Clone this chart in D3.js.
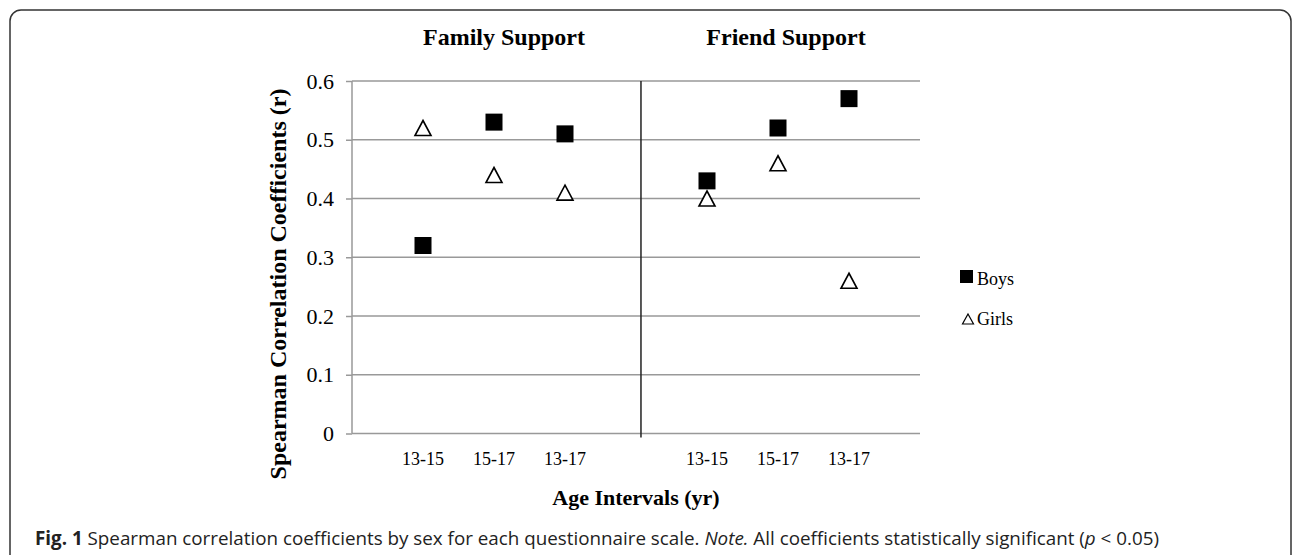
<!DOCTYPE html>
<html>
<head>
<meta charset="utf-8">
<script src="https://cdn.jsdelivr.net/npm/d3@7"></script>
<style>
  body { margin: 0; background: #fff; }
  svg { display: block; }
</style>
</head>
<body>
<div class="chart"></div>
<script>
const ageLabels = ['13-15', '15-17', '13-17', '13-15', '15-17', '13-17'];
const xSlots = [1, 2, 3, 5, 6, 7];
const boys = [0.32, 0.53, 0.51, 0.43, 0.52, 0.57];
const girls = [0.52, 0.44, 0.41, 0.40, 0.46, 0.26];
const yTicks = [0, 0.1, 0.2, 0.3, 0.4, 0.5, 0.6];
const panelTitles = ['Family Support', 'Friend Support'];
const dividerSlot = 4.07;

const width = 1292;
const height = 555;
const serif = '"Liberation Serif", "Times New Roman", serif';

const svg = d3
  .select('.chart')
  .append('svg')
  .attr('width', width)
  .attr('height', height);

// rounded figure frame (runs off the bottom)
svg
  .append('rect')
  .attr('x', 10)
  .attr('y', 10)
  .attr('width', 1281)
  .attr('height', 620)
  .attr('rx', 11)
  .attr('fill', 'none')
  .attr('stroke', '#333')
  .attr('stroke-width', 1.5);

const x = d3.scaleLinear().domain([0, 8]).range([352, 920]);
const y = d3.scaleLinear().domain([0, 0.6]).range([433.5, 81]);

// gridlines
svg
  .selectAll('line.grid')
  .data(yTicks)
  .enter()
  .append('line')
  .attr('class', 'grid')
  .attr('x1', x(0))
  .attr('x2', x(8))
  .attr('y1', (d) => y(d))
  .attr('y2', (d) => y(d))
  .attr('stroke', '#999')
  .attr('stroke-width', 1.5);

// y axis
const yAxis = svg
  .append('g')
  .attr('transform', `translate(${x(0)},0)`)
  .call(d3.axisLeft(y).tickValues(yTicks).tickSize(6).tickPadding(12).tickFormat((d) => (d === 0 ? '0' : d3.format('.1f')(d))));
yAxis.selectAll('line, path').attr('stroke', '#999').attr('stroke-width', 1.5);
yAxis.select('path').attr('d', `M0,${y(0)}V${y(0.6)}`);
yAxis
  .selectAll('text')
  .attr('font-family', serif)
  .attr('font-size', 22)
  .attr('fill', '#000');

// panel divider
svg
  .append('line')
  .attr('x1', x(dividerSlot))
  .attr('x2', x(dividerSlot))
  .attr('y1', y(0.6))
  .attr('y2', y(0) + 4)
  .attr('stroke', '#222')
  .attr('stroke-width', 1.5);

// x labels
svg
  .selectAll('text.age')
  .data(ageLabels)
  .enter()
  .append('text')
  .attr('class', 'age')
  .attr('x', (d, i) => x(xSlots[i]))
  .attr('y', 465)
  .attr('text-anchor', 'middle')
  .attr('font-family', serif)
  .attr('font-size', 18)
  .text((d) => d);

// panel titles
svg
  .selectAll('text.panel')
  .data(panelTitles)
  .enter()
  .append('text')
  .attr('class', 'panel')
  .attr('x', (d, i) => (i === 0 ? 504 : 786))
  .attr('y', 45)
  .attr('text-anchor', 'middle')
  .attr('font-family', serif)
  .attr('font-weight', 'bold')
  .attr('font-size', 24)
  .text((d) => d);

// axis titles
svg
  .append('text')
  .attr('x', 636)
  .attr('y', 505)
  .attr('text-anchor', 'middle')
  .attr('font-family', serif)
  .attr('font-weight', 'bold')
  .attr('font-size', 22)
  .text('Age Intervals (yr)');

svg
  .append('text')
  .attr('transform', 'translate(286,284) rotate(-90)')
  .attr('text-anchor', 'middle')
  .attr('font-family', serif)
  .attr('font-weight', 'bold')
  .attr('font-size', 24)
  .text('Spearman Correlation Coefficients (r)');

// markers
const tri = (w, h) => `M0,${-h / 2}L${w / 2},${h / 2}L${-w / 2},${h / 2}Z`;

svg
  .selectAll('path.girl')
  .data(girls)
  .enter()
  .append('path')
  .attr('class', 'girl')
  .attr('transform', (d, i) => `translate(${x(xSlots[i])},${y(d)})`)
  .attr('d', tri(16, 15))
  .attr('fill', '#fff')
  .attr('stroke', '#000')
  .attr('stroke-width', 1.6);

svg
  .selectAll('rect.boy')
  .data(boys)
  .enter()
  .append('rect')
  .attr('class', 'boy')
  .attr('x', (d, i) => x(xSlots[i]) - 8.5)
  .attr('y', (d) => y(d) - 8.5)
  .attr('width', 17)
  .attr('height', 17)
  .attr('fill', '#000');

// legend
const legend = svg.append('g');
legend
  .append('rect')
  .attr('x', 960)
  .attr('y', 270)
  .attr('width', 13)
  .attr('height', 13)
  .attr('fill', '#000');
legend
  .append('path')
  .attr('transform', 'translate(968,319)')
  .attr('d', tri(11, 10))
  .attr('fill', '#fff')
  .attr('stroke', '#000')
  .attr('stroke-width', 1.2);
legend
  .selectAll('text')
  .data(['Boys', 'Girls'])
  .enter()
  .append('text')
  .attr('x', 977)
  .attr('y', (d, i) => (i === 0 ? 285 : 325))
  .attr('font-family', serif)
  .attr('font-size', 18)
  .text((d) => d);

// caption
const cap = svg
  .append('text')
  .attr('font-family', '"Open Sans", sans-serif')
  .attr('font-size', 19)
  .attr('fill', '#222');
cap.append('tspan').attr('font-weight', 'bold').text('Fig. 1');
cap.append('tspan').text(' Spearman correlation coefficients by sex for each questionnaire scale. ');
cap.append('tspan').attr('font-style', 'italic').text('Note.');
cap.append('tspan').text(' All coefficients statistically significant (');
cap.append('tspan').attr('font-style', 'italic').text('p');
cap.append('tspan').text(' < 0.05)');
const capW = cap.node().getComputedTextLength();
cap.attr('transform', `translate(35,545) scale(${1125 / capW},1)`);
</script>
</body>
</html>
